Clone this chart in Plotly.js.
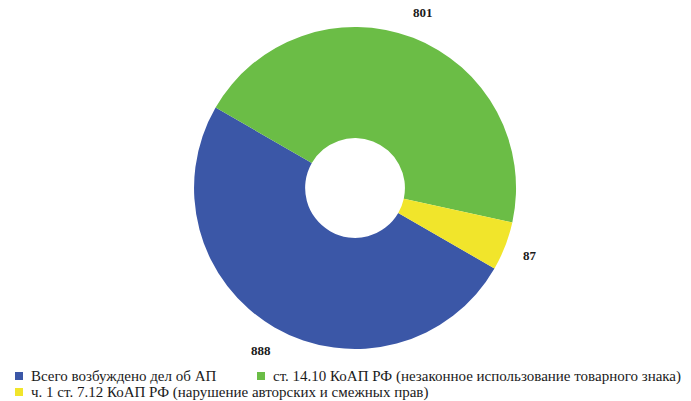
<!DOCTYPE html>
<html>
<head>
<meta charset="utf-8">
<script src="https://cdn.plot.ly/plotly-3.0.1.min.js"></script>
<style>
  html, body { margin: 0; padding: 0; background: #ffffff; }
  #chart { width: 691px; height: 401px; }
</style>
</head>
<body>
<div id="chart"></div>
<script>
// Case categories and counts
const categories = [
  'Всего возбуждено дел об АП',
  'ст. 14.10 КоАП РФ (незаконное использование товарного знака)',
  'ч. 1 ст. 7.12 КоАП РФ (нарушение авторских и смежных прав)'
];
const values = [888, 801, 87];
const colors = ['#3b57a7', '#6bbd46', '#f1e52b'];

const W = 691, H = 401;
const domainX = [0.2808, 0.7468];
const domainY = [0.1297, 0.9327];
const startAngle = 120;      // degrees clockwise from 12 o'clock
const labelRadiusPx = 188;   // distance of value labels from the centre
const serif = 'Liberation Serif';

// Value labels sit outside each slice at its middle angle
const total = values.reduce((a, b) => a + b, 0);
const cx = (domainX[0] + domainX[1]) / 2;
const cy = (domainY[0] + domainY[1]) / 2;
let acc = 0;
const annotations = values.map(v => {
  const mid = startAngle + (acc + v / 2) / total * 360;
  acc += v;
  const a = mid * Math.PI / 180;
  return {
    xref: 'paper', yref: 'paper',
    x: cx + labelRadiusPx * Math.sin(a) / W,
    y: cy + labelRadiusPx * Math.cos(a) / H,
    text: '<b>' + v + '</b>',
    showarrow: false,
    xanchor: 'center', yanchor: 'middle',
    font: { family: serif, size: 13, color: '#1a1a1a' }
  };
});

// Two-column key under the ring: small colour square followed by its caption
const keySlots = [
  { x: 15, y: 376 },
  { x: 257, y: 376 },
  { x: 15, y: 392 }
];
const keySquare = 8;
const keyTextGap = 6;
const shapes = [];
categories.forEach((name, i) => {
  const s = keySlots[i];
  shapes.push({
    type: 'rect', xref: 'paper', yref: 'paper',
    x0: s.x / W, x1: (s.x + keySquare) / W,
    y0: 1 - (s.y + keySquare / 2) / H, y1: 1 - (s.y - keySquare / 2) / H,
    fillcolor: colors[i], line: { width: 0 }
  });
  annotations.push({
    xref: 'paper', yref: 'paper',
    x: (s.x + keySquare + keyTextGap) / W,
    y: 1 - s.y / H,
    text: name,
    showarrow: false,
    xanchor: 'left', yanchor: 'middle',
    font: { family: serif, size: 15, color: '#1a1a1a' }
  });
});

const data = [{
  type: 'pie',
  labels: categories,
  values: values,
  hole: 0.31,
  sort: false,
  direction: 'clockwise',
  rotation: startAngle,
  marker: { colors: colors, line: { width: 0 } },
  textinfo: 'none',
  hoverinfo: 'label+value',
  showlegend: false,
  domain: { x: domainX, y: domainY }
}];

const layout = {
  width: W,
  height: H,
  margin: { l: 0, r: 0, t: 0, b: 0, autoexpand: false },
  paper_bgcolor: '#ffffff',
  plot_bgcolor: '#ffffff',
  font: { family: serif },
  showlegend: false,
  shapes: shapes,
  annotations: annotations
};

Plotly.newPlot('chart', data, layout, { displayModeBar: false, staticPlot: true });
</script>
</body>
</html>
